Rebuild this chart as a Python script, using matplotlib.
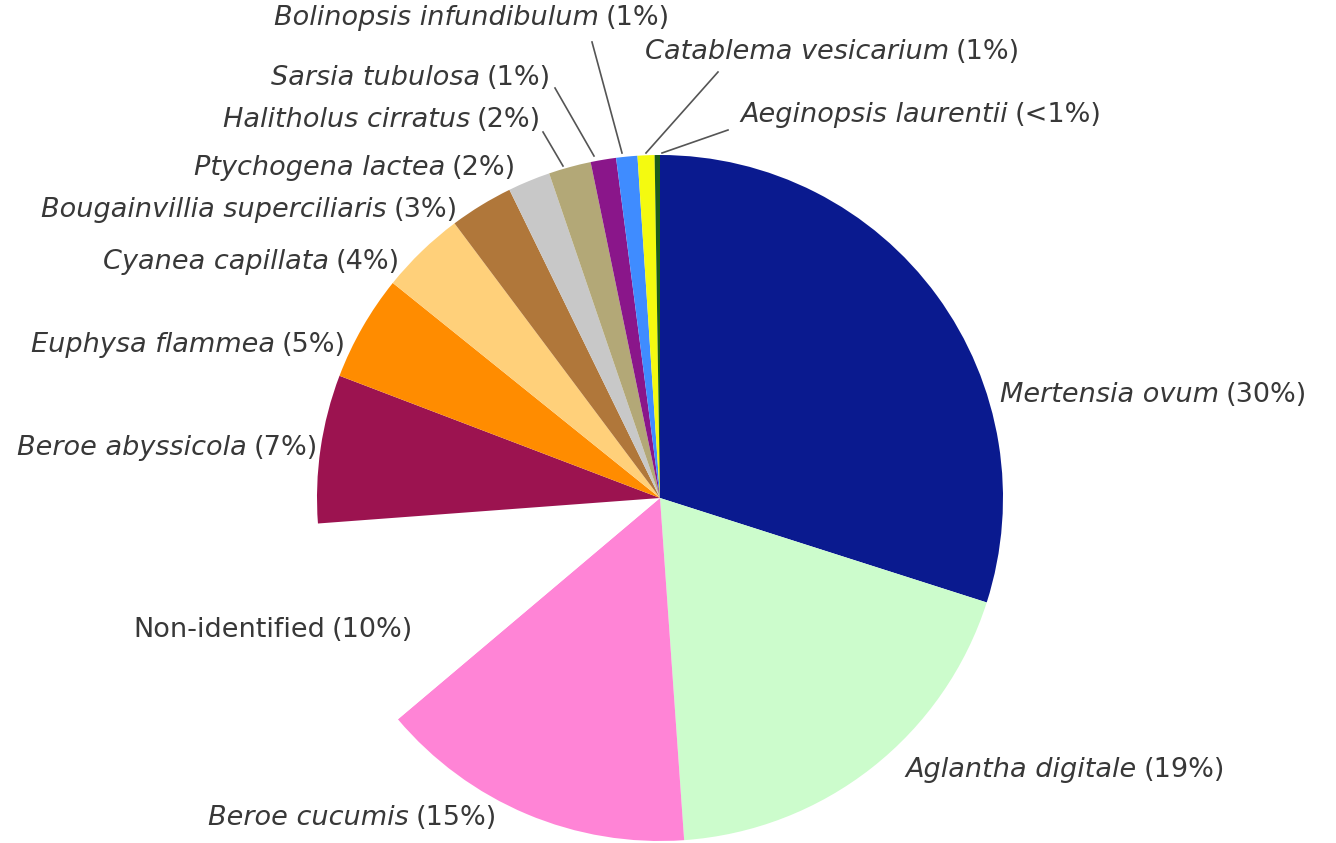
import matplotlib
matplotlib.use('Agg')
import matplotlib.pyplot as plt

# species and share (%) of the catch
species = ['Mertensia ovum', 'Aglantha digitale', 'Beroe cucumis', 'Non-identified',
           'Beroe abyssicola', 'Euphysa flammea', 'Cyanea capillata',
           'Bougainvillia superciliaris', 'Ptychogena lactea', 'Halitholus cirratus',
           'Sarsia tubulosa', 'Bolinopsis infundibulum', 'Catablema vesicarium',
           'Aeginopsis laurentii']
shares = [30, 19, 15, 10, 7, 5, 4, 3, 2, 2, 1.2, 1.0, 0.8, 0.25]
pct_labels = ['30%', '19%', '15%', '10%', '7%', '5%', '4%', '3%', '2%', '2%',
              '1%', '1%', '1%', '<1%']

colors = ['#0a1a8f', '#ccfccc', '#ff84d6', '#ffffff', '#9c1350', '#ff8c00',
          '#ffd07a', '#b0773a', '#c8c8c8', '#b3a877', '#8a168a', '#3f8cff',
          '#f4fa10', '#1a5c1a']

W, H = 1336, 843
fig = plt.figure(figsize=(W / 100, H / 100), dpi=100)
ax = fig.add_axes([0, 0, 1, 1])

cx, cy, r = 660, H - 498, 343
ax.pie(shares, colors=colors, startangle=90, counterclock=False,
       center=(cx, cy), radius=r, frame=True,
       wedgeprops=dict(linewidth=0))
ax.set_xlim(0, W)
ax.set_ylim(0, H)
ax.set_aspect('equal')
ax.axis('off')

# label anchors in pixel coords (x, y from top, side)
label_pos = [(1000, 395, 'left'), (905, 770, 'left'), (497, 818, 'right'),
             (413, 630, 'right'), (318, 448, 'right'), (346, 345, 'right'),
             (400, 262, 'right'), (458, 210, 'right'), (516, 168, 'right'),
             (541, 120, 'right'), (551, 78, 'right'), (670, 18, 'right'),
             (645, 52, 'left'), (740, 115, 'left')]

# leader lines (from, to) in pixel coords
leaders = {9: ((543, 132), (563, 166)),
           10: ((555, 88), (594, 156)),
           11: ((592, 42), (622, 153)),
           12: ((718, 72), (646, 153)),
           13: ((728, 130), (662, 153))}

txt_color = '#383838'
fs = 19.5
fam = 'DejaVu Sans'
fig.canvas.draw()
renderer = fig.canvas.get_renderer()
for i, name in enumerate(species):
    x, y, side = label_pos[i]
    style = 'normal' if name == 'Non-identified' else 'italic'
    pct = '(' + pct_labels[i] + ')'
    if side == 'left':
        t = ax.text(x, H - y, name, fontsize=fs, family=fam, style=style,
                    color=txt_color, ha='left', va='center')
        bb = t.get_window_extent(renderer)
        ax.text(bb.x1 + 7, H - y, pct, fontsize=fs, family=fam,
                color=txt_color, ha='left', va='center')
    else:
        t = ax.text(x, H - y, pct, fontsize=fs, family=fam,
                    color=txt_color, ha='right', va='center')
        bb = t.get_window_extent(renderer)
        ax.text(bb.x0 - 7, H - y, name, fontsize=fs, family=fam, style=style,
                color=txt_color, ha='right', va='center')
    if i in leaders:
        (x0, y0), (x1, y1) = leaders[i]
        ax.plot([x0, x1], [H - y0, H - y1], color='#555555', lw=1.2)

fig.savefig('out.png', dpi=100)
